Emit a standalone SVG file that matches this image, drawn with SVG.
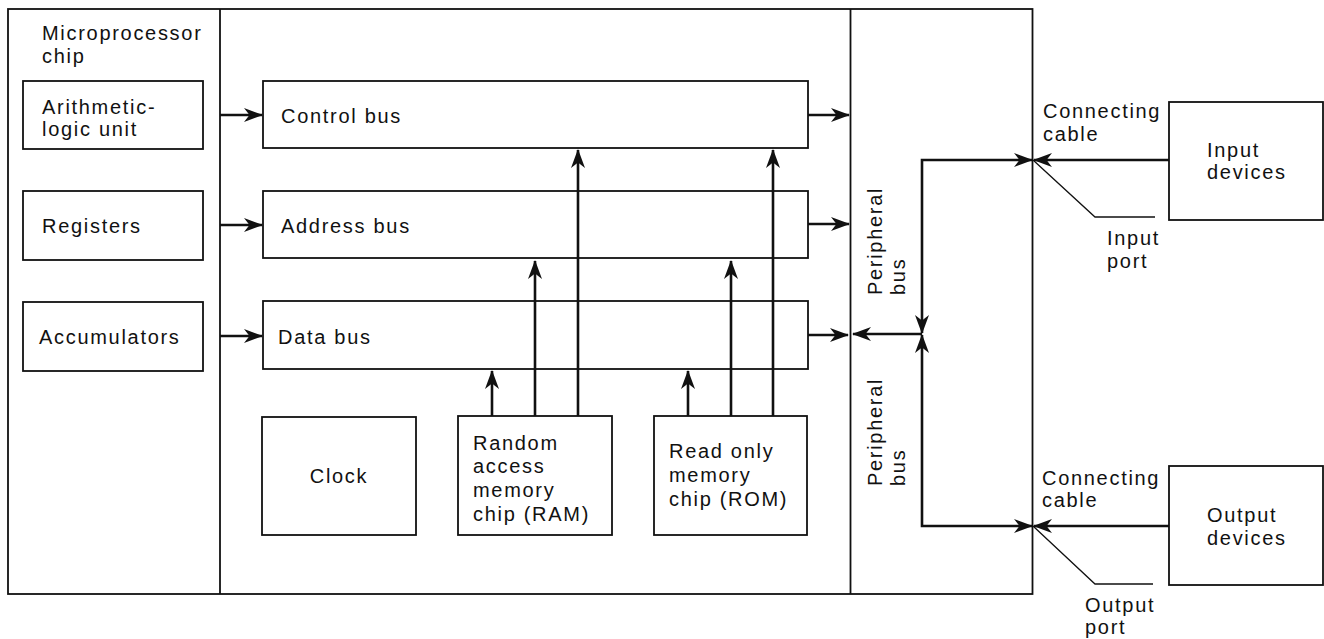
<svg xmlns="http://www.w3.org/2000/svg" width="1324" height="639" viewBox="0 0 1324 639">
<style>
text{font-family:"Liberation Sans",Arial,sans-serif;font-size:20px;letter-spacing:1.7px;fill:#111}
.box{fill:none;stroke:#111;stroke-width:1.8}
.frame{fill:none;stroke:#111;stroke-width:1.8}
.conn{fill:none;stroke:#111;stroke-width:2.6;stroke-linejoin:miter}
.lead{fill:none;stroke:#111;stroke-width:1.3}
.arr{marker-end:url(#ah)}
.arr2{marker-start:url(#ah);marker-end:url(#ah)}
</style>
<defs>
<marker id="ah" viewBox="-19 -8 21 16" refX="0" refY="0" markerWidth="21" markerHeight="16" orient="auto-start-reverse" markerUnits="userSpaceOnUse">
<path d="M1,0 L-18,-7 L-12.5,0 L-18,7 Z" fill="#111"/>
</marker>
</defs>
<rect width="1324" height="639" fill="#fff"/>

<g id="frame">
<rect class="frame" x="8" y="9" width="1024.5" height="585"/>
<line class="frame" x1="220" y1="9" x2="220" y2="594"/>
<line class="frame" x1="850.5" y1="9" x2="850.5" y2="594"/>
</g>

<g id="microprocessor-label">
<text x="42" y="40">Microprocessor</text>
<text x="42" y="63">chip</text>
</g>

<g id="alu">
<rect class="box" x="23" y="81" width="180" height="68"/>
<text x="42" y="114">Arithmetic-</text>
<text x="42" y="136">logic unit</text>
</g>
<g id="registers">
<rect class="box" x="23" y="191" width="180" height="69"/>
<text x="42" y="233">Registers</text>
</g>
<g id="accumulators">
<rect class="box" x="23" y="302" width="180" height="69"/>
<text x="39" y="344">Accumulators</text>
</g>

<g id="control-bus">
<rect class="box" x="263" y="81" width="545" height="67"/>
<text x="281" y="123">Control bus</text>
</g>
<g id="address-bus">
<rect class="box" x="263" y="191" width="545" height="67"/>
<text x="281" y="233">Address bus</text>
</g>
<g id="data-bus">
<rect class="box" x="263" y="301" width="545" height="68"/>
<text x="278" y="344">Data bus</text>
</g>

<g id="clock">
<rect class="box" x="262" y="417" width="154" height="118"/>
<text x="339" y="483" text-anchor="middle">Clock</text>
</g>
<g id="ram">
<rect class="box" x="458" y="416" width="154" height="119"/>
<text x="473" y="450">Random</text>
<text x="473" y="473">access</text>
<text x="473" y="497">memory</text>
<text x="473" y="521">chip (RAM)</text>
</g>
<g id="rom">
<rect class="box" x="654" y="416" width="153" height="119"/>
<text x="669" y="458">Read only</text>
<text x="669" y="482">memory</text>
<text x="669" y="506">chip (ROM)</text>
</g>

<g id="peripheral-bus-labels">
<text transform="translate(882,295) rotate(-90)">Peripheral</text>
<text transform="translate(905,295) rotate(-90)">bus</text>
<text transform="translate(882,486) rotate(-90)">Peripheral</text>
<text transform="translate(905,486) rotate(-90)">bus</text>
</g>

<g id="input-devices">
<rect class="box" x="1169" y="102" width="154" height="118"/>
<text x="1207" y="157">Input</text>
<text x="1207" y="179">devices</text>
</g>
<g id="output-devices">
<rect class="box" x="1169" y="466" width="154" height="119"/>
<text x="1207" y="522">Output</text>
<text x="1207" y="545">devices</text>
</g>

<g id="port-labels">
<text x="1043" y="118">Connecting</text>
<text x="1043" y="141">cable</text>
<text x="1107" y="245">Input</text>
<text x="1107" y="268">port</text>
<text x="1042" y="485">Connecting</text>
<text x="1042" y="507">cable</text>
<text x="1085" y="612">Output</text>
<text x="1085" y="634">port</text>
</g>

<g id="connectors">
<line class="conn arr" x1="220" y1="115" x2="262" y2="115"/>
<line class="conn arr" x1="220" y1="225" x2="262" y2="225"/>
<line class="conn arr" x1="220" y1="336" x2="262" y2="336"/>
<line class="conn arr" x1="808" y1="115" x2="849" y2="115"/>
<line class="conn arr" x1="808" y1="224" x2="849" y2="224"/>
<line class="conn arr" x1="808" y1="335" x2="848" y2="335"/>
<line class="conn arr" x1="492" y1="416" x2="492" y2="371"/>
<line class="conn arr" x1="535" y1="416" x2="535" y2="261"/>
<line class="conn arr" x1="578" y1="416" x2="578" y2="150"/>
<line class="conn arr" x1="688" y1="416" x2="688" y2="371"/>
<line class="conn arr" x1="731" y1="416" x2="731" y2="261"/>
<line class="conn arr" x1="773" y1="416" x2="773" y2="150"/>
<line class="conn arr" x1="922" y1="334" x2="853" y2="334"/>
<path class="conn arr2" d="M1032,160 H922 V333"/>
<path class="conn arr2" d="M1032,526 H922 V335"/>
<line class="conn arr" x1="1169" y1="160" x2="1034" y2="160"/>
<line class="conn arr" x1="1169" y1="526" x2="1034" y2="526"/>
<polyline class="lead" points="1033,160 1095,217 1155,217"/>
<polyline class="lead" points="1033,526 1095,584 1153,584"/>
</g>
</svg>
